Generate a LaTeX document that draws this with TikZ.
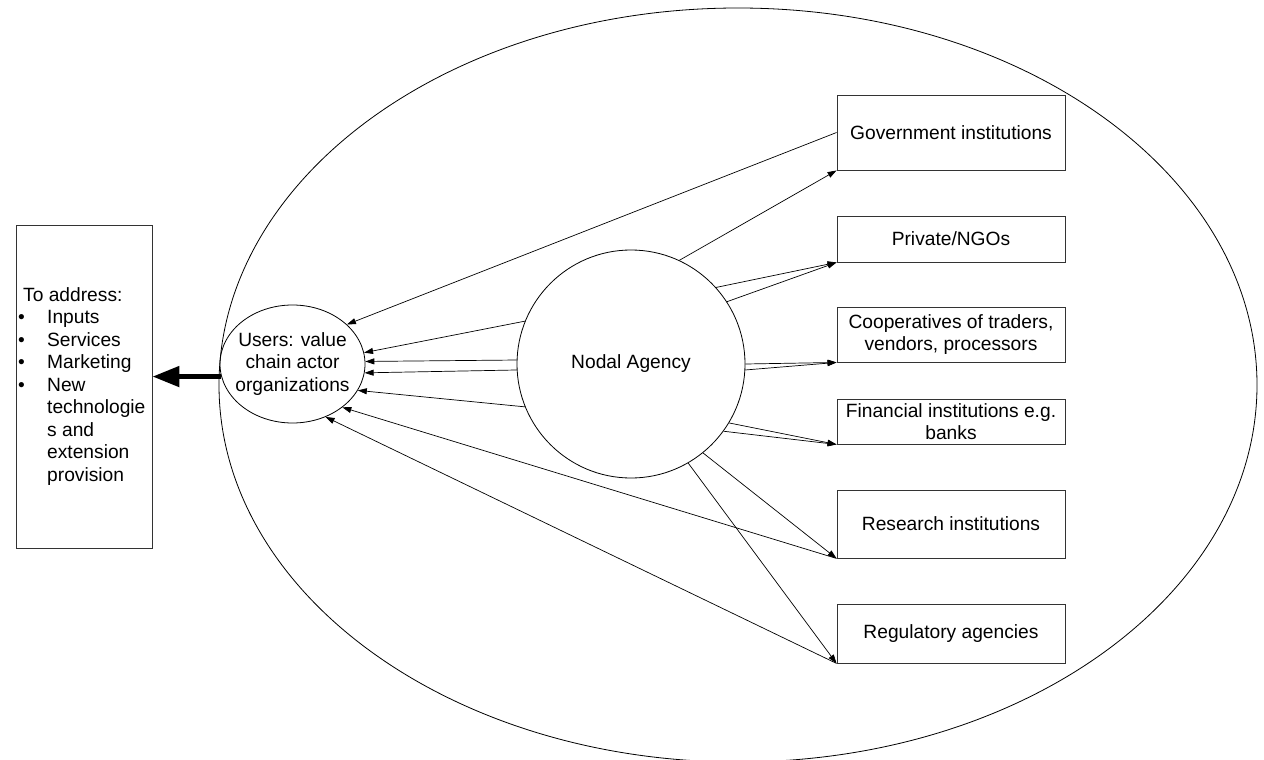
\documentclass[tikz,border=0pt]{standalone}
\usepackage{fontspec}
\setmainfont{Liberation Sans}
\usetikzlibrary{shapes.geometric,arrows.meta}
\begin{document}
\begin{tikzpicture}[x=1pt,y=-1pt,
  font=\fontsize{19.2}{22.5}\selectfont,
  box/.style={draw=black!80, line width=0.9pt, minimum width=228pt, align=center, inner sep=0pt},
  conn/.style={-{Triangle[length=9pt,width=6pt]}, line width=0.7pt},
  bigarrow/.style={-{Triangle[length=27pt,width=20pt]}, line width=5pt},
  ring/.style={draw, line width=0.8pt, inner sep=0pt}]
\useasboundingbox (0,0) rectangle (1264,760);

% outer boundary
\node[ring, ellipse, minimum width=1038pt, minimum height=754pt] (outer) at (738,385) {};

% central agency and users
\node[ring, circle, minimum size=228pt] (nodal) at (631,364) {Nodal Agency};
\node[ring, ellipse, minimum width=145pt, minimum height=118pt] (users) at (292.5,364) {};
\node[align=center, inner sep=0pt] (userstext) at (users) {Users: value\\chain actor\\organizations};

% partner institutions
\node[box, minimum height=75pt] (gov)  at (951,132.5) {Government institutions};
\node[box, minimum height=46pt] (priv) at (951,239)   {Private/NGOs};
\node[box, minimum height=55pt] (coop) at (951,334.5) {Cooperatives of traders,\\vendors, processors};
\node[box, minimum height=45pt] (fin)  at (951,421.5) {Financial institutions e.g.\\banks};
\node[box, minimum height=68pt] (res)  at (951,524)   {Research institutions};
\node[box, minimum height=59pt] (reg)  at (951,633.5) {Regulatory agencies};

% needs box
\node[box, minimum width=136pt, minimum height=323pt] (addr) at (84,386.5) {};
\node[anchor=north west, inner sep=0pt, align=left] (addrtext) at (18,285.25) {%
\begin{tabular}{@{}p{29pt}@{}l@{}}
\multicolumn{2}{@{}l@{}}{\hspace{5pt}To address:}\\
\textbullet & Inputs\\
\textbullet & Services\\
\textbullet & Marketing\\
\textbullet & New\\
 & technologie\\
 & s and\\
 & extension\\
 & provision
\end{tabular}};

% agency to institutions
\draw[conn] (nodal.65)  -- (gov.south west);
\draw[conn] (nodal.42)  -- (priv.south west);
\draw[conn] (nodal.33)  -- (priv.south west);
\draw[conn] (nodal.0)   -- (coop.south west);
\draw[conn] (nodal.-3)  -- (coop.south west);
\draw[conn] (nodal.-31) -- (fin.south west);
\draw[conn] (nodal.-36) -- (fin.south west);
\draw[conn] (nodal.-51) -- (res.south west);
\draw[conn] (nodal.-60) -- (reg.south west);

% agency to users
\draw[conn] (nodal.158) -- (users.9);
\draw[conn] (nodal.178) -- (users.2);
\draw[conn] (nodal.183) -- (users.-7);
\draw[conn] (nodal.202) -- (users.-22);

% institutions to users
\draw[conn] (gov.west)        -- (users.36);
\draw[conn] (res.south west)  -- (users.-41);
\draw[conn] (reg.south west)  -- (users.-58);

% users to needs
\draw[bigarrow] (users.190) -- (users.190 -| addr.east);
\end{tikzpicture}
\end{document}
